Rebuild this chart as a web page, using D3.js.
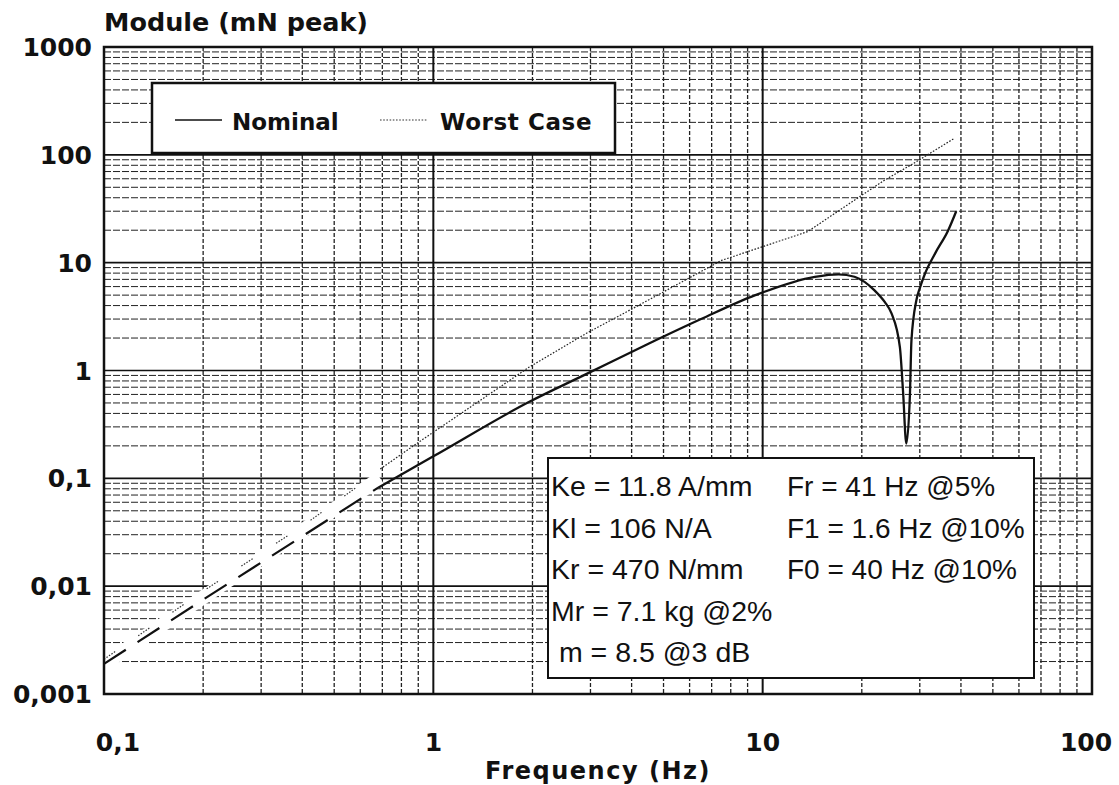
<!DOCTYPE html>
<meta charset="utf-8">
<style>
body { margin: 0; background: #fff; }
.bold { font-family: "DejaVu Sans", sans-serif; font-weight: bold; fill: #111; }
.param { font-family: "Liberation Sans", Arial, sans-serif; fill: #111; }
</style>
<body>
<script src="https://d3js.org/d3.v7.min.js"></script>
<script>

// values
const nominalLow = [[0.1, 0.0019], [0.2, 0.0075], [0.4, 0.029], [0.68, 0.082]];
const nominal = [[0.68, 0.082], [1, 0.16], [1.95, 0.51], [2.9, 0.92], [4.5, 1.77],
  [6.5, 3.0], [9.5, 5.0], [14.4, 7.4], [17, 7.8], [19, 7.4], [21.9, 5.5], [23.5, 4.3],
  [24.6, 3.4], [26.1, 1.65], [26.7, 0.62], [27.3, 0.21], [28, 0.6], [28.3, 1.9],
  [29.3, 4.5], [30, 5.8], [31.1, 7.9], [33.4, 12.2], [36.6, 20], [38.7, 30]];
const worstLow = [[0.1, 0.0021], [0.2, 0.009], [0.4, 0.036], [0.62, 0.094]];
const worst = [[0.69, 0.122], [0.9, 0.215], [1.95, 1.07], [2.9, 2.19], [4.5, 4.5],
  [7.5, 10.5], [13.7, 19.4], [19, 38], [23.5, 58.5], [28.3, 81], [38.3, 143]];

const xTicks = [0.1, 1, 10, 100];
const xTickLabels = ["0,1", "1", "10", "100"];
const yTicks = [0.001, 0.01, 0.1, 1, 10, 100, 1000];
const yTickLabels = ["0,001", "0,01", "0,1", "1", "10", "100", "1000"];

const params = [
  ["Ke = 11.8 A/mm", "Fr = 41 Hz @5%"],
  ["Kl = 106 N/A", "F1 = 1.6 Hz @10%"],
  ["Kr = 470 N/mm", "F0 = 40 Hz @10%"],
  ["Mr = 7.1 kg @2%", ""],
  [" m = 8.5 @3 dB", ""]
];

const width = 1119, height = 785;
const pLeft = 104, pRight = 1092, pTop = 47, pBottom = 694;

const x = d3.scaleLog().domain([0.1, 100]).range([pLeft, pRight]);
const y = d3.scaleLog().domain([0.001, 1000]).range([pBottom, pTop]);

const svg = d3.select("body").append("svg")
    .attr("width", width)
    .attr("height", height);

// minor grid
const minorX = [], minorY = [];
for (let d = 0.1; d < 100; d *= 10) for (let k = 2; k <= 9; k++) minorX.push(d * k);
for (let d = 0.001; d < 1000; d *= 10) for (let k = 2; k <= 9; k++) minorY.push(d * k);

svg.append("g").selectAll("line")
  .data(minorY)
  .join("line")
    .attr("x1", pLeft).attr("x2", pRight)
    .attr("y1", d => y(d)).attr("y2", d => y(d))
    .attr("stroke", "#222").attr("stroke-width", 1)
    .attr("stroke-dasharray", "7,2");

svg.append("g").selectAll("line")
  .data(minorX)
  .join("line")
    .attr("y1", pTop).attr("y2", pBottom)
    .attr("x1", d => x(d)).attr("x2", d => x(d))
    .attr("stroke", "#222").attr("stroke-width", 1.3)
    .attr("stroke-dasharray", "4,2");

// major grid
svg.append("g").selectAll("line")
  .data(yTicks)
  .join("line")
    .attr("x1", pLeft).attr("x2", pRight)
    .attr("y1", d => y(d)).attr("y2", d => y(d))
    .attr("stroke", "#111").attr("stroke-width", 1.6);

svg.append("g").selectAll("line")
  .data(xTicks)
  .join("line")
    .attr("y1", pTop).attr("y2", pBottom)
    .attr("x1", d => x(d)).attr("x2", d => x(d))
    .attr("stroke", "#111").attr("stroke-width", 2);

const line = d3.line().x(d => x(d[0])).y(d => y(d[1]));
const smooth = d3.line().x(d => x(d[0])).y(d => y(d[1])).curve(d3.curveMonotoneX);

// white band the plotter left around the low-frequency dashes
svg.append("path")
    .attr("d", line([nominalLow[0], [0.69, 0.1]]))
    .attr("fill", "none").attr("stroke", "#fff").attr("stroke-width", 14);

svg.append("path")
    .attr("d", line(nominalLow))
    .attr("fill", "none").attr("stroke", "#111").attr("stroke-width", 2.2)
    .attr("stroke-dasharray", "26,14");

svg.append("path")
    .attr("d", line(worstLow))
    .attr("fill", "none").attr("stroke", "#333").attr("stroke-width", 1.2)
    .attr("stroke-dasharray", "1.5,1.5,1.5,1.5,1.5,1.5,1.5,1.5,1.5,28");

svg.append("path")
    .attr("d", line(worst))
    .attr("fill", "none").attr("stroke", "#222").attr("stroke-width", 1.2)
    .attr("stroke-dasharray", "1.6,1.6");

svg.append("path")
    .attr("d", smooth(nominal))
    .attr("fill", "none").attr("stroke", "#111").attr("stroke-width", 2.3);

// frame
svg.append("rect")
    .attr("x", pLeft).attr("y", pTop)
    .attr("width", pRight - pLeft).attr("height", pBottom - pTop)
    .attr("fill", "none").attr("stroke", "#111").attr("stroke-width", 2.5);

// legend
const lg = svg.append("g");
lg.append("rect")
    .attr("x", 152).attr("y", 83).attr("width", 463).attr("height", 70)
    .attr("fill", "#fff").attr("stroke", "#111").attr("stroke-width", 2.5);
lg.append("line").attr("x1", 175).attr("x2", 222).attr("y1", 120).attr("y2", 120)
    .attr("stroke", "#111").attr("stroke-width", 1.5);
lg.append("text").attr("class", "bold").attr("x", 232).attr("y", 130)
    .attr("font-size", 23).text("Nominal");
lg.append("line").attr("x1", 380).attr("x2", 428).attr("y1", 120).attr("y2", 120)
    .attr("stroke", "#333").attr("stroke-width", 1.2).attr("stroke-dasharray", "1.6,1.6");
lg.append("text").attr("class", "bold").attr("x", 440).attr("y", 130)
    .attr("font-size", 23).attr("letter-spacing", 0.6).text("Worst Case");

// parameter box
const pb = svg.append("g");
pb.append("rect")
    .attr("x", 548).attr("y", 458).attr("width", 486).attr("height", 220)
    .attr("fill", "#fff").attr("stroke", "#111").attr("stroke-width", 2);
params.forEach((row, i) => {
  pb.append("text").attr("class", "param").attr("x", 551).attr("y", 496 + i * 41.6)
      .attr("font-size", 28.5).style("white-space", "pre").text(row[0]);
  if (row[1]) pb.append("text").attr("class", "param").attr("x", 787).attr("y", 496 + i * 41.6)
      .attr("font-size", 28).text(row[1]);
});

// axis labels
svg.append("g").selectAll("text")
  .data(yTicks)
  .join("text")
    .attr("class", "bold")
    .attr("x", 92).attr("y", d => y(d) + 9)
    .attr("text-anchor", "end").attr("font-size", 25)
    .text((d, i) => yTickLabels[i]);

svg.append("g").selectAll("text")
  .data(xTicks)
  .join("text")
    .attr("class", "bold")
    .attr("x", (d, i) => x(d) + (i === 0 ? 14 : i === 3 ? -6 : 0)).attr("y", 751)
    .attr("text-anchor", "middle").attr("font-size", 25)
    .text((d, i) => xTickLabels[i]);

svg.append("text").attr("class", "bold")
    .attr("x", 104).attr("y", 31).attr("font-size", 25.5)
    .text("Module (mN peak)");

svg.append("text").attr("class", "bold")
    .attr("x", 598).attr("y", 779).attr("text-anchor", "middle")
    .attr("font-size", 24).attr("letter-spacing", 1.5)
    .text("Frequency (Hz)");

</script>
